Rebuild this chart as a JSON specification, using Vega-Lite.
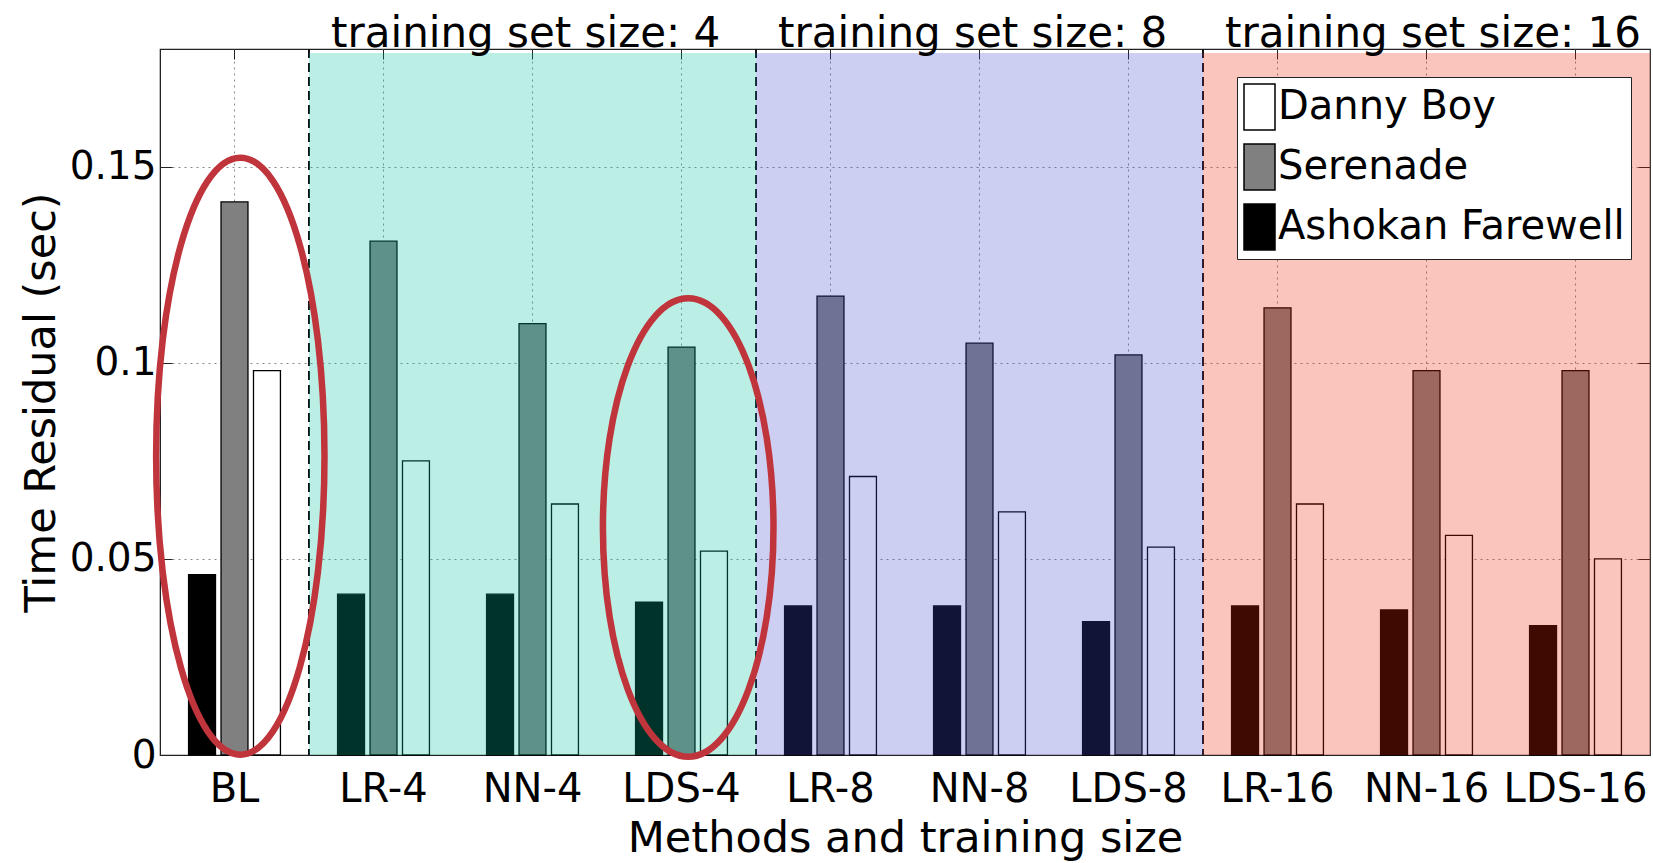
{
  "$schema": "https://vega.github.io/schema/vega-lite/v6.json",
  "width": 1490,
  "height": 706,
  "autosize": {"type": "none"},
  "padding": {"left": 160, "top": 49, "right": 3, "bottom": 108},
  "background": "white",
  "config": {
    "font": "DejaVu Sans",
    "view": {"stroke": "#222", "strokeWidth": 1.2},
    "axis": {"domainColor": "#222", "tickColor": "#222", "labelColor": "black", "titleColor": "black", "titleFontWeight": "normal", "labelFont": "DejaVu Sans", "titleFont": "DejaVu Sans"}
  },
  "datasets": {
    "bars": [
      {"method": "BL", "size": "BL", "song": "Ashokan Farewell", "value": 0.046},
      {"method": "BL", "size": "BL", "song": "Serenade", "value": 0.141},
      {"method": "BL", "size": "BL", "song": "Danny Boy", "value": 0.098},
      {"method": "LR-4", "size": "4", "song": "Ashokan Farewell", "value": 0.041},
      {"method": "LR-4", "size": "4", "song": "Serenade", "value": 0.131},
      {"method": "LR-4", "size": "4", "song": "Danny Boy", "value": 0.075},
      {"method": "NN-4", "size": "4", "song": "Ashokan Farewell", "value": 0.041},
      {"method": "NN-4", "size": "4", "song": "Serenade", "value": 0.110},
      {"method": "NN-4", "size": "4", "song": "Danny Boy", "value": 0.064},
      {"method": "LDS-4", "size": "4", "song": "Ashokan Farewell", "value": 0.039},
      {"method": "LDS-4", "size": "4", "song": "Serenade", "value": 0.104},
      {"method": "LDS-4", "size": "4", "song": "Danny Boy", "value": 0.052},
      {"method": "LR-8", "size": "8", "song": "Ashokan Farewell", "value": 0.038},
      {"method": "LR-8", "size": "8", "song": "Serenade", "value": 0.117},
      {"method": "LR-8", "size": "8", "song": "Danny Boy", "value": 0.071},
      {"method": "NN-8", "size": "8", "song": "Ashokan Farewell", "value": 0.038},
      {"method": "NN-8", "size": "8", "song": "Serenade", "value": 0.105},
      {"method": "NN-8", "size": "8", "song": "Danny Boy", "value": 0.062},
      {"method": "LDS-8", "size": "8", "song": "Ashokan Farewell", "value": 0.034},
      {"method": "LDS-8", "size": "8", "song": "Serenade", "value": 0.102},
      {"method": "LDS-8", "size": "8", "song": "Danny Boy", "value": 0.053},
      {"method": "LR-16", "size": "16", "song": "Ashokan Farewell", "value": 0.038},
      {"method": "LR-16", "size": "16", "song": "Serenade", "value": 0.114},
      {"method": "LR-16", "size": "16", "song": "Danny Boy", "value": 0.064},
      {"method": "NN-16", "size": "16", "song": "Ashokan Farewell", "value": 0.037},
      {"method": "NN-16", "size": "16", "song": "Serenade", "value": 0.098},
      {"method": "NN-16", "size": "16", "song": "Danny Boy", "value": 0.056},
      {"method": "LDS-16", "size": "16", "song": "Ashokan Farewell", "value": 0.033},
      {"method": "LDS-16", "size": "16", "song": "Serenade", "value": 0.098},
      {"method": "LDS-16", "size": "16", "song": "Danny Boy", "value": 0.050}
    ],
    "titles": [
      {"method": "LR-4", "label": "training set size: 4"},
      {"method": "LR-8", "label": "training set size: 8"},
      {"method": "LR-16", "label": "training set size: 16"}
    ],
    "ellipses": [
      {"method": "BL", "mid": 0.0762},
      {"method": "LDS-4", "mid": 0.0580}
    ]
  },
  "layer": [
    {
      "data": {"name": "bars"},
      "mark": {"type": "bar", "stroke": "black", "strokeWidth": 1.3},
      "encoding": {
        "x": {
          "field": "method", "type": "nominal", "sort": null,
          "scale": {"domain": ["BL", "LR-4", "NN-4", "LDS-4", "LR-8", "NN-8", "LDS-8", "LR-16", "NN-16", "LDS-16"], "paddingInner": 0, "paddingOuter": 0},
          "axis": {"orient": "bottom", "title": "Methods and training size", "labelAngle": 0, "labelFontSize": 40, "titleFontSize": 43, "labelPadding": 24, "tickSize": -10, "grid": true, "gridDash": [2, 4], "gridColor": "#888", "titlePadding": 8}
        },
        "xOffset": {"field": "song", "type": "nominal", "scale": {"domain": ["Ashokan Farewell", "Serenade", "Danny Boy"], "paddingInner": 0.17, "paddingOuter": 0.88}},
        "y": {
          "field": "value", "type": "quantitative",
          "scale": {"domain": [0, 0.18], "nice": false},
          "axis": {"orient": "left", "values": [0, 0.05, 0.1, 0.15], "format": "~g", "title": "Time Residual (sec)", "labelFontSize": 39, "titleFontSize": 43, "labelPadding": 16, "tickSize": -12, "grid": true, "gridDash": [2, 4], "gridColor": "#888", "titlePadding": 6}
        },
        "fill": {
          "field": "song", "type": "nominal",
          "scale": {"domain": ["Danny Boy", "Serenade", "Ashokan Farewell"], "range": ["#ffffff", "#808080", "#000000"]},
          "legend": {"title": null, "orient": "none", "legendX": 1077, "legendY": 28, "fillColor": "white", "strokeColor": "#222", "padding": 6, "symbolType": "M-1,-1H0.348V1H-1Z", "symbolSize": 2116, "symbolStrokeColor": "black", "symbolStrokeWidth": 1.5, "symbolOpacity": 1, "labelFontSize": 40, "labelFont": "DejaVu Sans", "labelColor": "black", "labelOffset": -13, "labelLimit": 600, "rowPadding": 8}
        }
      }
    },
    {
      "data": {"name": "bars"},
      "transform": [{"filter": "datum.song === 'Serenade' && (datum.method === 'LR-4' || datum.method === 'LR-8' || datum.method === 'LR-16')"}],
      "mark": {"type": "rule", "strokeDash": [9, 5], "color": "#111", "strokeWidth": 2},
      "encoding": {
        "x": {"field": "method", "type": "nominal", "bandPosition": 0, "axis": null}
      }
    },
    {
      "data": {"name": "bars"},
      "transform": [{"filter": "datum.song === 'Serenade' && datum.size !== 'BL'"}],
      "mark": {"type": "bar", "fillOpacity": 0.265, "strokeWidth": 0},
      "encoding": {
        "x": {"field": "method", "type": "nominal", "axis": {"orient": "top", "labels": false, "title": null, "domain": false, "grid": false, "tickSize": -10}},
        "y": {"datum": 0.179, "type": "quantitative", "axis": {"orient": "right", "values": [0, 0.05, 0.1, 0.15], "labels": false, "title": null, "domain": false, "grid": false, "tickSize": -12}},
        "y2": {"datum": 0},
        "fill": {"field": "size", "type": "nominal", "scale": {"domain": ["4", "8", "16"], "range": ["#00c09e", "#444bd0", "#ee2608"]}, "legend": null}
      }
    },
    {
      "data": {"name": "ellipses"},
      "transform": [{"filter": "datum.method === 'BL'"}],
      "mark": {"type": "point", "filled": false, "shape": "M-0.282,0A0.282,1,0,1,1,0.282,0A0.282,1,0,1,1,-0.282,0Z", "size": 356409, "stroke": "#c0343c", "strokeWidth": 6.5, "opacity": 1},
      "encoding": {
        "x": {"field": "method", "type": "nominal", "bandPosition": 0.539, "axis": null},
        "y": {"field": "mid", "type": "quantitative", "axis": null}
      }
    },
    {
      "data": {"name": "ellipses"},
      "transform": [{"filter": "datum.method === 'LDS-4'"}],
      "mark": {"type": "point", "filled": false, "shape": "M-0.372,0A0.372,1,0,1,1,0.372,0A0.372,1,0,1,1,-0.372,0Z", "size": 210222, "stroke": "#c0343c", "strokeWidth": 6.5, "opacity": 1},
      "encoding": {
        "x": {"field": "method", "type": "nominal", "bandPosition": 0.545, "axis": null},
        "y": {"field": "mid", "type": "quantitative", "axis": null}
      }
    },
    {
      "data": {"name": "titles"},
      "mark": {"type": "text", "fontSize": 42, "font": "DejaVu Sans", "align": "left", "baseline": "alphabetic", "dx": 22, "dy": -2, "color": "black"},
      "encoding": {
        "x": {"field": "method", "type": "nominal", "bandPosition": 0, "axis": null},
        "y": {"datum": 0.18, "type": "quantitative", "axis": null},
        "text": {"field": "label"}
      }
    }
  ],
  "resolve": {"scale": {"fill": "independent"}, "axis": {"x": "independent", "y": "independent"}}
}
